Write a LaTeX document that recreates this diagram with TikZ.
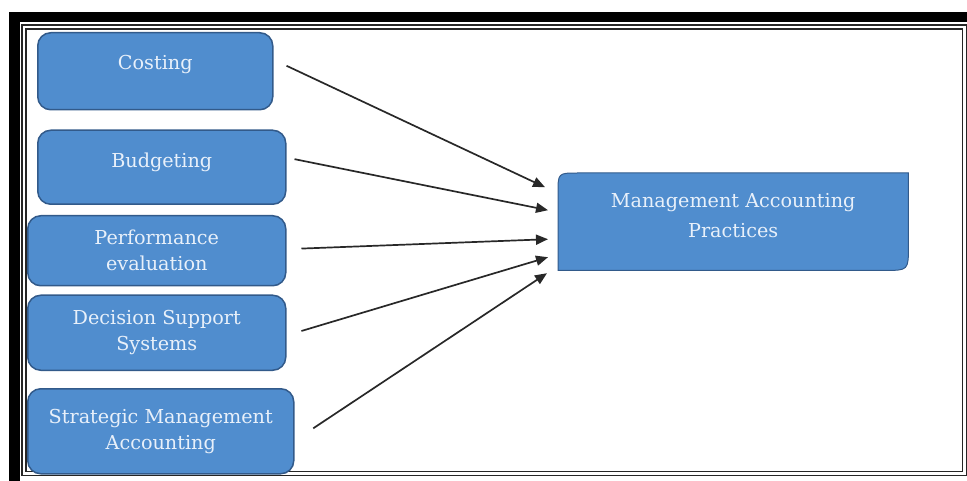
\documentclass[tikz,border=0pt]{standalone}
\usepackage{fontspec}
\setmainfont{DejaVu Serif}
\usetikzlibrary{arrows.meta}
\usetikzlibrary{positioning}
\usetikzlibrary{backgrounds}

\definecolor{boxblue}{RGB}{80,141,206}
\definecolor{boxedge}{RGB}{50,90,138}
\definecolor{boxtext}{RGB}{232,240,250}
\definecolor{arrowgray}{RGB}{40,40,40}

\begin{document}
\begin{tikzpicture} [x=1pt, y=-1pt,
    box/.style={draw=boxedge, fill=boxblue, line width=1.5pt, rounded corners=13pt,
      inner sep=0pt, align=center, text=boxtext, font=\fontsize{19.2}{26}\selectfont},
    maptext/.style={inner sep=0pt, align=center, text=boxtext, font=\fontsize{19.2}{30}\selectfont},
    arr/.style={draw=arrowgray, line width=1.7pt, -{Triangle[length=12pt,width=10pt]}}]
    \useasboundingbox (0,0) rectangle (967,481);

    % frame
    \fill [black] (9,12) rectangle (967,22);
    \fill [black] (9,12) rectangle (20,481);
    \draw [black!85, double=white, double distance=2.5pt, line width=1.3pt] (24,27) rectangle (964.5,473.5);

    % left column
    \node (cost) [box, minimum width=235pt, minimum height=77pt, text depth=17pt, anchor=north west] at (37,32) {Costing};
    \node (budg) [box, minimum width=248pt, minimum height=74pt, text depth=15pt, below=19pt of cost.south west, anchor=north west] {Budgeting};
    \node (perf) [box, minimum width=258pt, minimum height=70pt, below=10pt of budg.south west, anchor=north west, xshift=-10pt] {Performance\\evaluation};
    \node (dss) [box, minimum width=258pt, minimum height=75pt, below=8pt of perf.south west, anchor=north west] {Decision Support\\Systems};
    \node (sma) [box, minimum width=266pt, minimum height=85pt, below=17pt of dss.south west, anchor=north west] {Strategic Management\\Accounting};

    % target
    \node (map) [maptext, minimum width=350pt, minimum height=97pt, text depth=12pt, anchor=north west] at (558,173) {Management Accounting\\Practices};
    \begin{pgfonlayer}{background}
      \filldraw [draw=boxedge, fill=boxblue, line width=1pt]
        (map.south west) -- ([yshift=-20pt]map.north west)
        .. controls (map.north west) .. ([xshift=20pt]map.north west)
        -- (map.north east) -- ([yshift=24pt]map.south east)
        .. controls (map.south east) .. ([xshift=-24pt]map.south east) -- cycle;
    \end{pgfonlayer}

    \coordinate (t1) at ([xshift=-13pt, yshift=34.5pt]map.west);
    \coordinate (t2) at ([xshift=-10pt, yshift=11.5pt]map.west);
    \coordinate (t3) at ([xshift=-10pt, yshift=-17.5pt]map.west);
    \coordinate (t4) at ([xshift=-10pt, yshift=-35.5pt]map.west);
    \coordinate (t5) at ([xshift=-11pt, yshift=-51.5pt]map.west);

    \draw [arr, shorten <=14.4pt] ([yshift=11.6pt]cost.east) -- (t1);
    \draw [arr, shorten <=8.2pt] ([yshift=9.7pt]budg.east) -- (t2);
    \draw [arr, shorten <=15pt] ([yshift=1.6pt]perf.east) -- (t3);
    \draw [arr, shorten <=15.6pt] ([yshift=-2.7pt]dss.east) -- (t4);
    \draw [arr, shorten <=22.5pt] ([yshift=-9.5pt]sma.east) -- (t5);
  \end{tikzpicture}
\end{document}
